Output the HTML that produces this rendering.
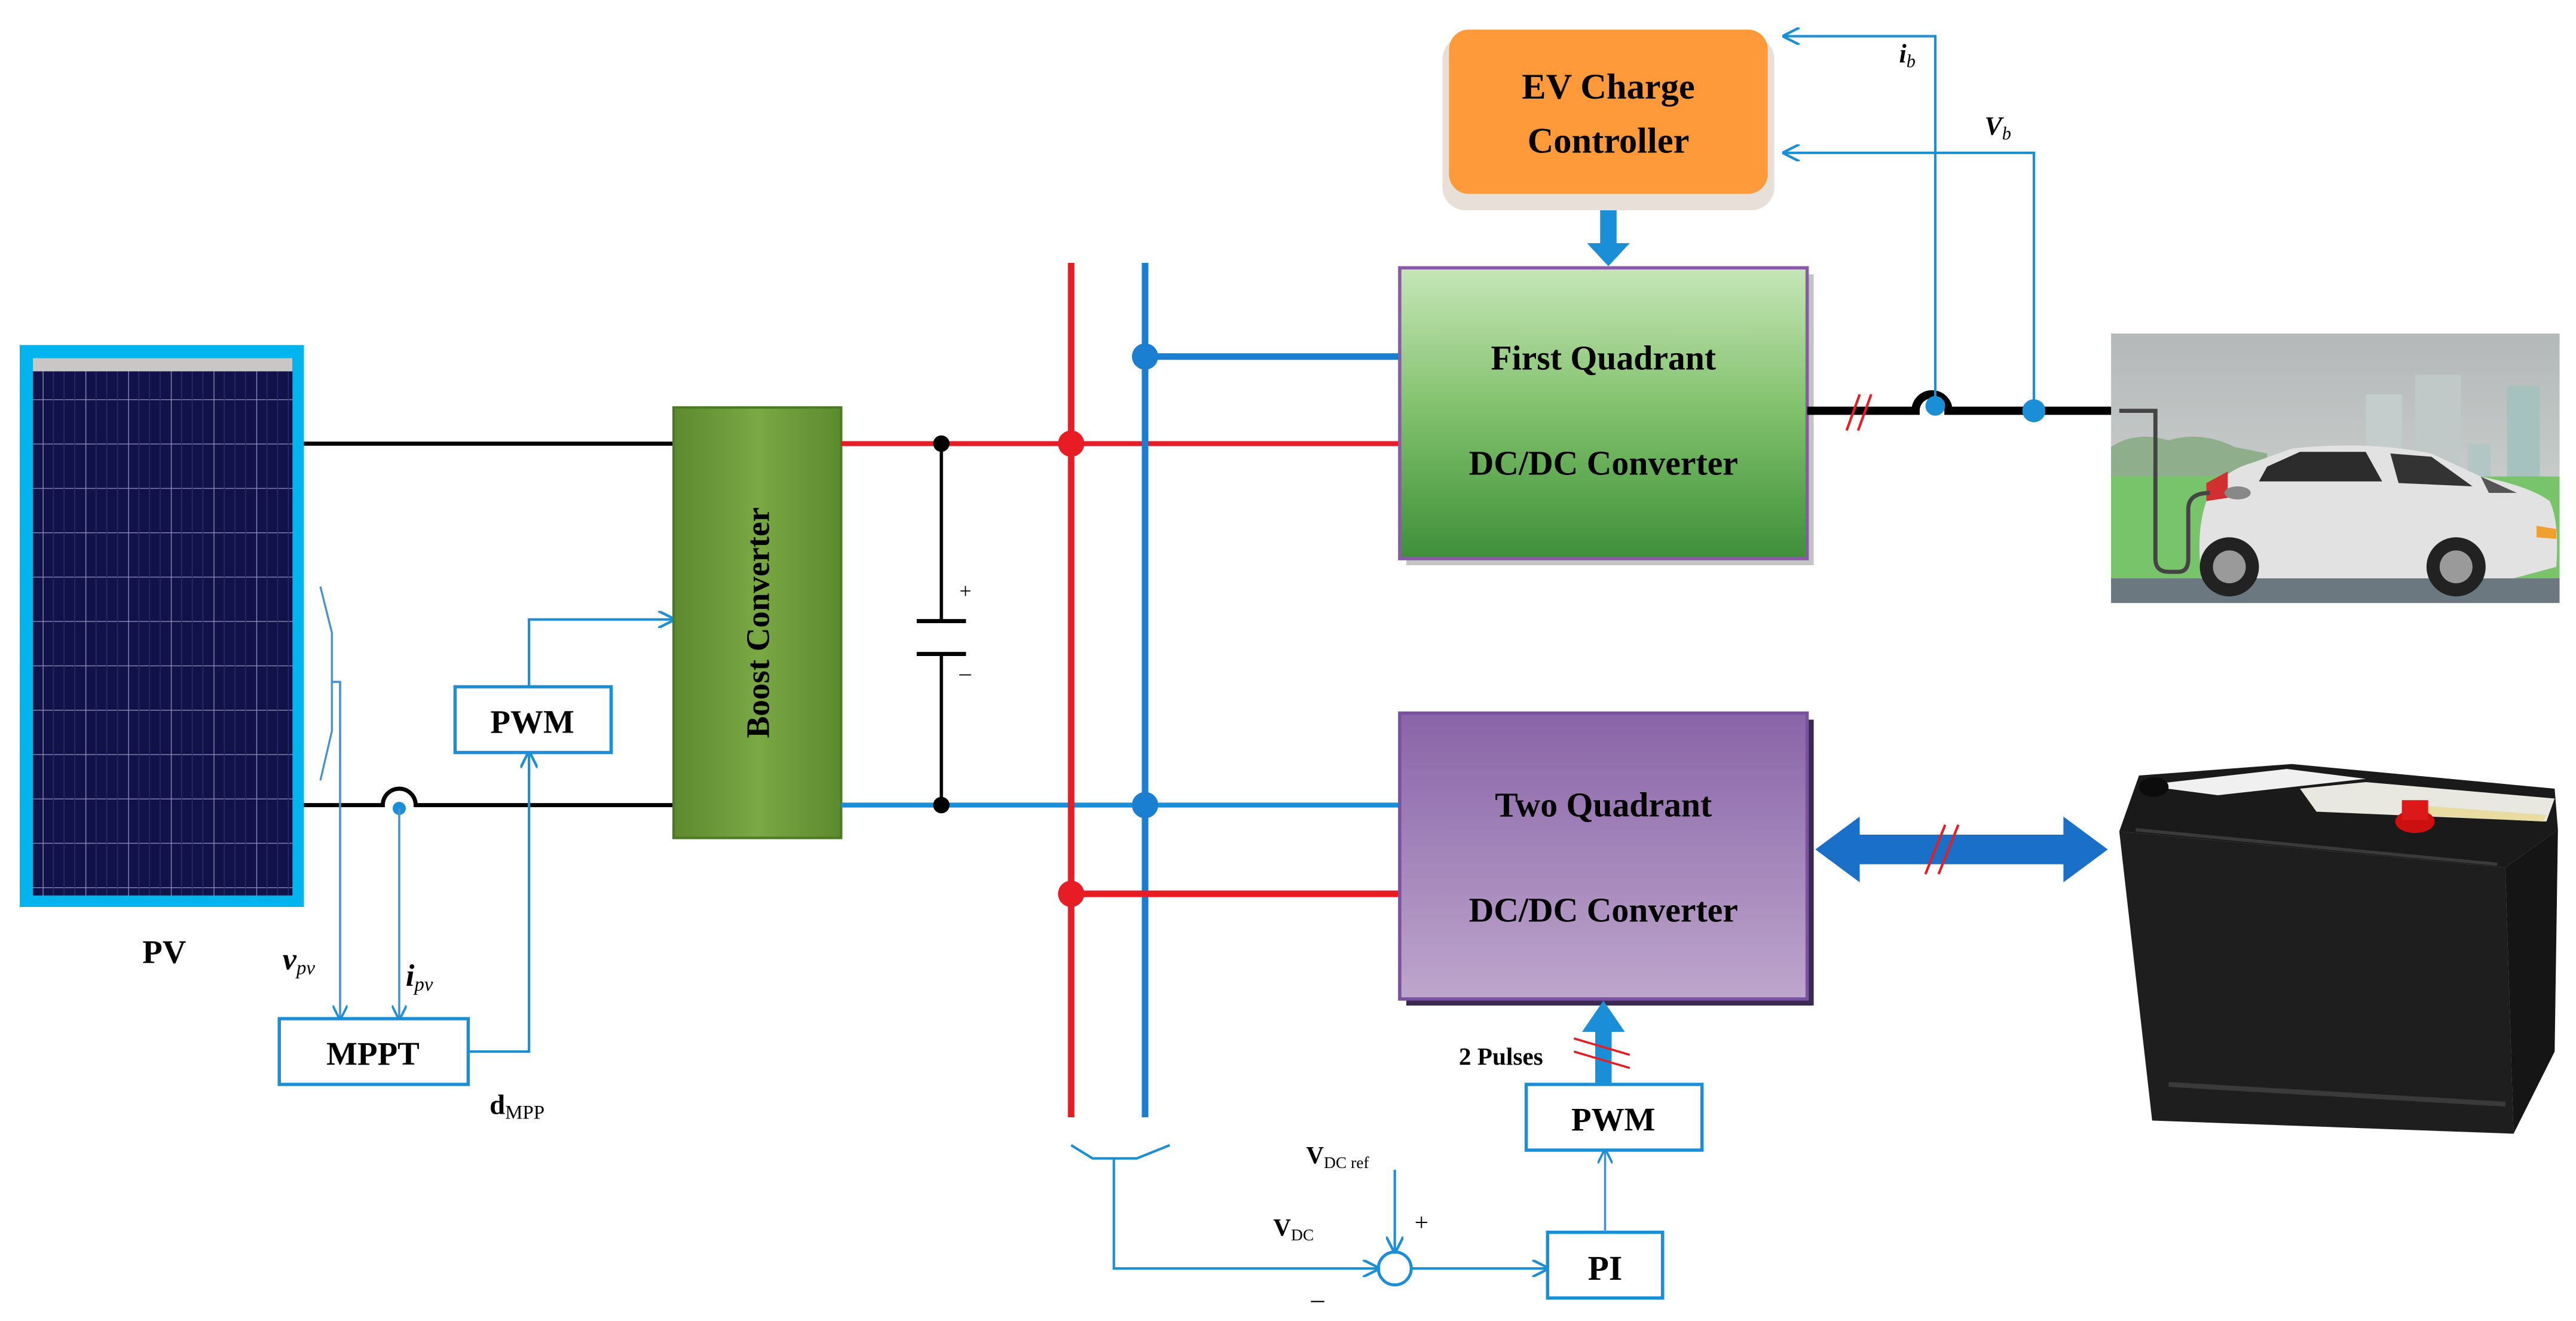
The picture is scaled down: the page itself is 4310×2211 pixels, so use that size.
<!DOCTYPE html>
<html><head><meta charset="utf-8"><style>
html,body{margin:0;padding:0;background:#fff;}
svg{display:block;}
text{font-family:"Liberation Serif",serif;}
</style></head><body>
<svg width="4310" height="2211" viewBox="0 0 1568 804" preserveAspectRatio="none" xmlns="http://www.w3.org/2000/svg">
<defs>
<linearGradient id="gq" x1="0" y1="0" x2="0" y2="1"><stop offset="0" stop-color="#c6e6b8"/><stop offset="0.5" stop-color="#7fc06a"/><stop offset="1" stop-color="#3f8f3a"/></linearGradient>
<linearGradient id="pq" x1="0" y1="0" x2="0" y2="1"><stop offset="0" stop-color="#8a64a8"/><stop offset="1" stop-color="#bda6cc"/></linearGradient>
<linearGradient id="bc" x1="0" y1="0" x2="1" y2="0"><stop offset="0" stop-color="#5c8a2e"/><stop offset="0.5" stop-color="#7aa844"/><stop offset="1" stop-color="#5c8a2e"/></linearGradient>
<linearGradient id="sky" x1="0" y1="0" x2="0" y2="1"><stop offset="0" stop-color="#b4b8b8"/><stop offset="1" stop-color="#d6dad8"/></linearGradient>
<pattern id="cells" width="26" height="27" patternUnits="userSpaceOnUse"><rect width="26" height="27" fill="#12124a"/><path d="M0 0H26M0 0V27" stroke="#8a8ab8" stroke-width="1"/><path d="M6.5 0V27M13 0V27M19.5 0V27" stroke="#2a2a66" stroke-width="0.6"/></pattern>
<marker id="ah" viewBox="0 0 10 10" refX="9" refY="5" markerWidth="7" markerHeight="7" orient="auto"><path d="M0 0L10 5L0 10" fill="none" stroke="#1a8fd8" stroke-width="1.5"/></marker>
</defs>

<!-- PV panel -->
<rect x="12" y="210" width="173" height="342" fill="#00b4ee"/>
<rect x="20" y="218" width="158" height="327" fill="url(#cells)"/>
<rect x="20" y="218" width="158" height="8" fill="#c9c6c6"/>
<text x="100" y="586" font-size="20" font-weight="bold" text-anchor="middle">PV</text>

<line x1="185" y1="270" x2="410" y2="270" stroke="#000" stroke-width="2.5"/>
<path d="M185 490H233A10 10 0 0 1 253 490H410" fill="none" stroke="#000" stroke-width="2.5"/>

<!-- sensing lines left -->
<path d="M195 357L202 385V445L195 475" fill="none" stroke="#4a90d0" stroke-width="1.2"/>
<path d="M202 415H207V620" fill="none" stroke="#4a90d0" stroke-width="1.3" marker-end="url(#ah)"/>
<circle cx="243" cy="492" r="4" fill="#1a8fd8"/>
<line x1="243" y1="492" x2="243" y2="620" stroke="#4a90d0" stroke-width="1.3" marker-end="url(#ah)"/>
<rect x="170" y="620" width="115" height="40" fill="#fff" stroke="#1a8fd8" stroke-width="2"/>
<text x="227" y="648" font-size="20" font-weight="bold" text-anchor="middle">MPPT</text>
<path d="M285 640H322V458" fill="none" stroke="#1a8fd8" stroke-width="1.5" marker-end="url(#ah)"/>
<rect x="277" y="418" width="95" height="40" fill="#fff" stroke="#1a8fd8" stroke-width="2"/>
<text x="324" y="446" font-size="20" font-weight="bold" text-anchor="middle">PWM</text>
<path d="M322 418V377H410" fill="none" stroke="#1a8fd8" stroke-width="1.5" marker-end="url(#ah)"/>
<text x="172" y="590" font-size="19" font-style="italic" font-weight="bold">v<tspan font-size="12" font-weight="normal" dy="3">pv</tspan></text>
<text x="247" y="600" font-size="19" font-style="italic" font-weight="bold">i<tspan font-size="12" font-weight="normal" dy="3">pv</tspan></text>
<text x="298" y="678" font-size="17" font-weight="bold">d<tspan font-size="12" font-weight="normal" dy="3">MPP</tspan></text>

<!-- Boost converter -->
<rect x="410" y="248" width="102" height="262" fill="url(#bc)" stroke="#4d7a24" stroke-width="1.5"/>
<text transform="translate(468,379) rotate(-90)" font-size="20" font-weight="bold" text-anchor="middle">Boost Converter</text>

<!-- DC link lines -->
<line x1="512" y1="270" x2="852" y2="270" stroke="#e81c24" stroke-width="3"/>
<line x1="512" y1="490" x2="852" y2="490" stroke="#1a8fd8" stroke-width="3"/>
<line x1="573" y1="270" x2="573" y2="378" stroke="#000" stroke-width="2"/>
<line x1="573" y1="398" x2="573" y2="490" stroke="#000" stroke-width="2"/>
<line x1="558" y1="378" x2="588" y2="378" stroke="#000" stroke-width="2.5"/>
<line x1="558" y1="398" x2="588" y2="398" stroke="#000" stroke-width="2.5"/>
<circle cx="573" cy="270" r="5" fill="#000"/><circle cx="573" cy="490" r="5" fill="#000"/>
<text x="584" y="364" font-size="13">+</text><text x="584" y="414" font-size="14">–</text>

<!-- buses -->
<line x1="652" y1="160" x2="652" y2="680" stroke="#e81c24" stroke-width="4"/>
<line x1="697" y1="160" x2="697" y2="680" stroke="#1a7fd0" stroke-width="4"/>
<line x1="697" y1="217" x2="852" y2="217" stroke="#1a7fd0" stroke-width="4"/>
<line x1="652" y1="544" x2="852" y2="544" stroke="#e81c24" stroke-width="4"/>
<circle cx="697" cy="217" r="8" fill="#1a7fd0"/>
<circle cx="652" cy="270" r="8" fill="#e81c24"/>
<circle cx="697" cy="490" r="8" fill="#1a7fd0"/>
<circle cx="652" cy="544" r="8" fill="#e81c24"/>

<!-- First Quadrant -->
<rect x="856" y="167" width="248" height="177" fill="#3a3a3a" opacity="0.3"/>
<rect x="852" y="163" width="248" height="177" fill="url(#gq)" stroke="#8a5aa8" stroke-width="2"/>
<text x="976" y="225" font-size="21" font-weight="bold" text-anchor="middle">First Quadrant</text>
<text x="976" y="289" font-size="21" font-weight="bold" text-anchor="middle">DC/DC Converter</text>

<!-- EV Charge controller -->
<rect x="878" y="22" width="202" height="106" rx="14" fill="#e8e0d8"/>
<rect x="882" y="18" width="194" height="100" rx="12" fill="#ff9a3a"/>
<text x="979" y="60" font-size="22" font-weight="bold" text-anchor="middle">EV Charge</text>
<text x="979" y="93" font-size="22" font-weight="bold" text-anchor="middle">Controller</text>
<rect x="974" y="128" width="10" height="22" fill="#1a8fd8"/>
<path d="M966 148H992L979 162Z" fill="#1a8fd8"/>

<!-- output EV -->
<path d="M1100 250H1166A10 10 0 0 1 1186 250H1290" fill="none" stroke="#000" stroke-width="5"/>
<line x1="1124" y1="262" x2="1132" y2="240" stroke="#e81c24" stroke-width="1.5"/>
<line x1="1131" y1="262" x2="1139" y2="240" stroke="#e81c24" stroke-width="1.5"/>
<circle cx="1178" cy="247" r="6" fill="#1a8fd8"/>
<circle cx="1238" cy="250" r="7" fill="#1a8fd8"/>
<path d="M1178 247V22H1086" fill="none" stroke="#1a8fd8" stroke-width="1.5" marker-end="url(#ah)"/>
<path d="M1238 250V93H1086" fill="none" stroke="#1a8fd8" stroke-width="1.5" marker-end="url(#ah)"/>
<text x="1156" y="38" font-size="16" font-style="italic" font-weight="bold">i<tspan font-size="11" font-weight="normal" dy="3">b</tspan></text>
<text x="1208" y="82" font-size="16" font-style="italic" font-weight="bold">V<tspan font-size="11" font-weight="normal" dy="3">b</tspan></text>

<!-- car image -->
<rect x="1285" y="203" width="273" height="164" fill="url(#sky)"/>
<rect x="1440" y="240" width="22" height="70" fill="#c4cccc"/>
<rect x="1470" y="228" width="28" height="80" fill="#c0c8c8"/>
<rect x="1526" y="235" width="20" height="75" fill="#a6c2be"/>
<rect x="1502" y="270" width="14" height="40" fill="#b2c6c4"/>
<path d="M1285 272Q1300 262 1320 268Q1340 262 1360 272L1380 276V290H1285Z" fill="#8fae8c"/>
<rect x="1285" y="290" width="273" height="66" fill="#78c46a"/>
<rect x="1285" y="352" width="273" height="15" fill="#6c7880"/>
<!-- car body -->
<path d="M1340 350Q1336 320 1345 300Q1355 286 1370 282L1395 273Q1440 268 1480 276L1510 290Q1540 296 1552 305Q1558 318 1556 345L1530 352H1340Z" fill="#e2e2e2"/>
<path d="M1380 284L1400 275H1440L1450 293H1375Z" fill="#2c2c2c"/>
<path d="M1455 276L1480 278L1505 296L1460 294Z" fill="#333"/>
<path d="M1510 290L1532 300L1515 300Z" fill="#555"/>
<path d="M1544 320L1556 322L1556 328L1544 327Z" fill="#f0a030"/>
<circle cx="1357" cy="345" r="18" fill="#222"/><circle cx="1357" cy="345" r="10" fill="#9a9a9a"/>
<circle cx="1495" cy="345" r="18" fill="#222"/><circle cx="1495" cy="345" r="10" fill="#9a9a9a"/>
<path d="M1343 294L1356 287V303L1343 305Z" fill="#d03030"/>
<path d="M1290 250H1312V340Q1312 348 1320 348H1326Q1332 348 1332 340V310Q1332 300 1345 300" fill="none" stroke="#444" stroke-width="2.5"/>
<ellipse cx="1362" cy="300" rx="8" ry="4" fill="#888"/>

<!-- Two Quadrant -->
<rect x="856" y="438" width="248" height="174" fill="#3a2a50"/>
<rect x="852" y="434" width="248" height="174" fill="url(#pq)" stroke="#7a50a0" stroke-width="2"/>
<text x="976" y="497" font-size="21" font-weight="bold" text-anchor="middle">Two Quadrant</text>
<text x="976" y="561" font-size="21" font-weight="bold" text-anchor="middle">DC/DC Converter</text>

<!-- double arrow to battery -->
<path d="M1105 517L1132 497V508H1256V497L1283 517L1256 537V526H1132V537Z" fill="#1a6fc8"/>
<line x1="1172" y1="532" x2="1184" y2="502" stroke="#e81c24" stroke-width="1.5"/>
<line x1="1180" y1="532" x2="1192" y2="502" stroke="#e81c24" stroke-width="1.5"/>

<!-- battery -->
<path d="M1290 506L1302 472L1395 465L1555 480L1557 505L1525 528Z" fill="#1a1a1a"/>
<path d="M1304 478L1392 468L1440 474L1350 484Z" fill="#f0f0f0"/>
<path d="M1400 480L1440 476L1555 486L1550 500L1410 494Z" fill="#e8e8e0"/>
<path d="M1470 490L1550 496L1548 500L1470 496Z" fill="#e8dca0"/>
<path d="M1290 506L1525 528L1530 690L1310 682Z" fill="#1e1e1e"/>
<path d="M1525 528L1557 505L1555 640L1530 690Z" fill="#151515"/>
<path d="M1300 505L1520 526" stroke="#3a3a3a" stroke-width="2"/>
<path d="M1320 660L1525 672" stroke="#3a3a3a" stroke-width="3"/>
<ellipse cx="1470" cy="500" rx="12" ry="7" fill="#cc1010"/>
<rect x="1462" y="487" width="16" height="12" fill="#dd1818"/>
<ellipse cx="1311" cy="479" rx="9" ry="6" fill="#0c0c0c"/>

<!-- lower control -->
<rect x="929" y="660" width="107" height="40" fill="#fff" stroke="#1a8fd8" stroke-width="2"/>
<text x="982" y="688" font-size="20" font-weight="bold" text-anchor="middle">PWM</text>
<rect x="971" y="625" width="10" height="35" fill="#1a8fd8"/>
<path d="M963 628H989L976 609Z" fill="#1a8fd8"/>
<text x="888" y="648" font-size="15" font-weight="bold">2 Pulses</text>
<line x1="958" y1="632" x2="992" y2="642" stroke="#e81c24" stroke-width="1.3"/>
<line x1="958" y1="640" x2="992" y2="650" stroke="#e81c24" stroke-width="1.3"/>
<rect x="942" y="750" width="70" height="40" fill="#fff" stroke="#1a8fd8" stroke-width="2"/>
<text x="977" y="779" font-size="21" font-weight="bold" text-anchor="middle">PI</text>
<line x1="977" y1="750" x2="977" y2="700" stroke="#4a90d0" stroke-width="1.3" marker-end="url(#ah)"/>
<circle cx="849" cy="772" r="10" fill="#fff" stroke="#1a8fd8" stroke-width="1.8"/>
<line x1="849" y1="712" x2="849" y2="762" stroke="#1a8fd8" stroke-width="1.5" marker-end="url(#ah)"/>
<line x1="859" y1="772" x2="942" y2="772" stroke="#1a8fd8" stroke-width="1.5" marker-end="url(#ah)"/>
<path d="M652 697L665 705H692L712 697" fill="none" stroke="#1a8fd8" stroke-width="1.5"/>
<path d="M678 705V772H839" fill="none" stroke="#1a8fd8" stroke-width="1.5" marker-end="url(#ah)"/>
<text x="795" y="708" font-size="15" font-weight="bold">V<tspan font-size="10" font-weight="normal" dy="3">DC ref</tspan></text>
<text x="775" y="752" font-size="15" font-weight="bold">V<tspan font-size="10" font-weight="normal" dy="3">DC</tspan></text>
<text x="861" y="749" font-size="15">+</text>
<text x="798" y="796" font-size="16">–</text>
</svg>
</body></html>
